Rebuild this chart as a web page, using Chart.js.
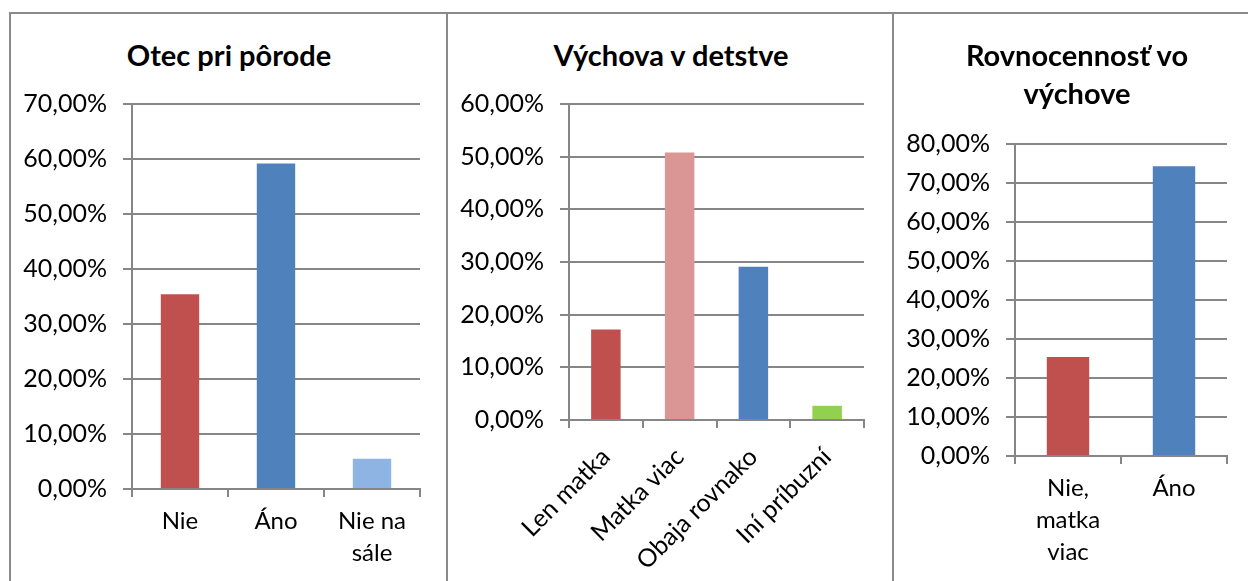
<!DOCTYPE html>
<html>
<head>
<meta charset="utf-8">
<script src="https://cdn.jsdelivr.net/npm/chart.js@4/dist/chart.umd.min.js"></script>
<style>
html,body{margin:0;padding:0;background:#fff;width:1248px;height:581px;overflow:hidden}
.panel{position:absolute;top:12px;height:600px;border-left:2px solid #8a8a8a;border-top:2px solid #8a8a8a;box-sizing:border-box}
.title{position:absolute;left:0;right:0;text-align:center;font:bold 29px Lato,sans-serif;color:#000;line-height:38px}
canvas{position:absolute;left:0;top:0}
</style>
</head>
<body>

<div class="panel" id="p1" style="left:9px;width:438px">
<div class="title" style="top:22px">Otec pri pôrode</div>
<div style="position:absolute;left:-1px;top:-1px;width:436px;height:568px"><canvas id="c1"></canvas></div>
</div>

<div class="panel" id="p2" style="left:446px;width:448px">
<div class="title" style="top:22px">Výchova v detstve</div>
<div style="position:absolute;left:-1px;top:-1px;width:446px;height:568px"><canvas id="c2"></canvas></div>
</div>

<div class="panel" id="p3" style="left:892px;width:380px">
<div class="title" style="top:22px;width:366px">Rovnocennosť vo<br>výchove</div>
<div style="position:absolute;left:-1px;top:-1px;width:366px;height:568px"><canvas id="c3"></canvas></div>
</div>

<script>
// Otec pri pôrode
const kat1=["Nie","Áno",["Nie na","sále"]]
const hod1=[35.4,59.2,5.5]
const farby1=["#C0504D","#4F81BD","#8EB4E3"]

// Výchova v detstve
const kat2=["Len matka","Matka viac","Obaja rovnako","Iní príbuzní"]
const hod2=[17.2,50.8,29.1,2.7]
const farby2=["#C0504D","#D99694","#4F81BD","#92D050"]

// Rovnocennosť vo výchove
const kat3=[["Nie,","matka","viac"],"Áno"]
const hod3=[25.4,74.3]
const farby3=["#C0504D","#4F81BD"]

const sivá="#868686"

function percento(v){
return v.toFixed(2).replace(".",",")+"%"
}

function graf(id,kategorie,hodnoty,farby,max,nastav){

new Chart(document.getElementById(id),{

type:"bar",

data:{
labels:kategorie,
datasets:[{
data:hodnoty,
backgroundColor:farby,
barPercentage:0.4,
categoryPercentage:1
}]
},

options:{
responsive:true,
maintainAspectRatio:false,
animation:false,
events:[],
layout:{padding:{top:nastav.hore,right:nastav.vpravo,left:0,bottom:0}},
plugins:{legend:{display:false},tooltip:{enabled:false}},
scales:{
x:{
grid:{display:true,drawOnChartArea:false,drawTicks:true,tickLength:8,color:sivá,lineWidth:2,offset:true},
border:{color:sivá,width:2},
ticks:{
color:"#000",
font:{family:"Lato",size:nastav.xfont,lineHeight:1.33},
padding:nastav.xpad,
maxRotation:nastav.rot,
minRotation:nastav.rot,
autoSkip:false
},
afterFit:s=>{s.height=nastav.xvyska}
},
y:{
min:0,
max:max,
grid:{color:sivá,lineWidth:2,tickLength:9},
border:{color:sivá,width:2},
ticks:{
stepSize:10,
color:"#000",
font:{family:"Lato",size:25},
padding:16,
callback:v=>percento(v)
},
afterFit:s=>{s.width=122}
}
}
}

})

}

graf("c1",kat1,hod1,farby1,70,{hore:91,vpravo:26,xvyska:92,xpad:8,rot:0,xfont:24})
graf("c2",kat2,hod2,farby2,60,{hore:91,vpravo:29,xvyska:161,xpad:13,rot:45,xfont:25})
graf("c3",kat3,hod3,farby3,80,{hore:131,vpravo:32,xvyska:125,xpad:8,rot:0,xfont:24})
</script>
</body>
</html>
